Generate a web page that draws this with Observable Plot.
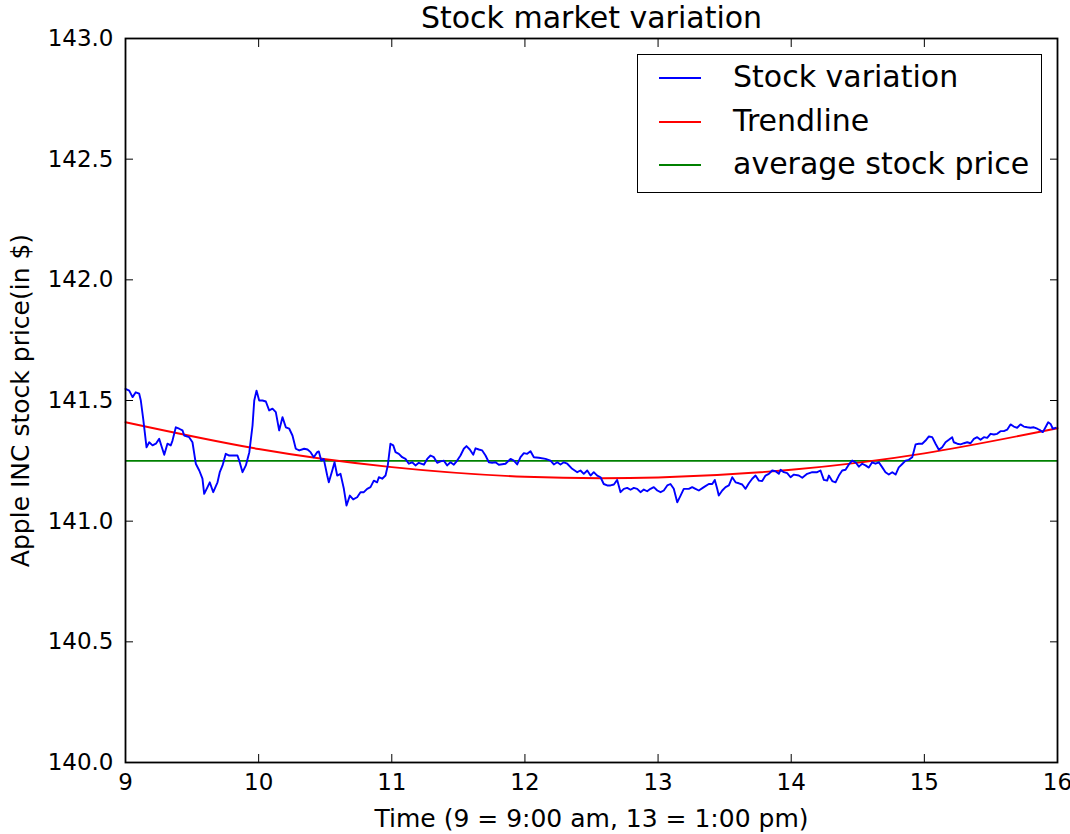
<!DOCTYPE html>
<html>
<head>
<meta charset="utf-8">
<script src="https://cdn.jsdelivr.net/npm/d3@7"></script>
<script src="https://cdn.jsdelivr.net/npm/@observablehq/plot@0.6"></script>
<style>
  html, body { margin: 0; padding: 0; background: #fff; }
  #wrap { position: relative; width: 1070px; height: 834px; font-family: "DejaVu Sans", sans-serif; }
  #legend {
    position: absolute; left: 637px; top: 54px; width: 403px; height: 137px;
    border: 1.5px solid #000; background: #fff; box-sizing: content-box;
  }
  .item { position: absolute; left: 0; height: 0; }
  .swatch { position: absolute; left: 21px; top: -1px; width: 42px; height: 2px; }
  .lbl { position: absolute; left: 95px; font-size: 30px; line-height: 30px; top: -16px; white-space: nowrap; color: #000; }
</style>
</head>
<body>
<div id="wrap"><div id="legend"></div></div>
<script>
// Intraday Apple stock price, [hour of day, price in $], one array per hour
const hour9 = [[9.000,141.548],[9.028,141.541],[9.053,141.514],[9.077,141.534],[9.103,141.528],[9.115,141.500],[9.133,141.424],[9.158,141.306],[9.178,141.327],[9.203,141.314],[9.228,141.321],[9.253,141.341],[9.273,141.306],[9.291,141.275],[9.315,141.321],[9.340,141.314],[9.353,141.334],[9.378,141.389],[9.403,141.383],[9.428,141.376],[9.441,141.355],[9.478,141.348],[9.503,141.327],[9.528,141.238],[9.554,141.210],[9.578,141.176],[9.591,141.113],[9.616,141.141],[9.633,141.161],[9.659,141.120],[9.691,141.161],[9.708,141.203],[9.729,141.231],[9.753,141.279],[9.779,141.272],[9.804,141.272],[9.841,141.272],[9.854,141.251],[9.879,141.203],[9.904,141.231],[9.930,141.286],[9.954,141.396],[9.967,141.500],[9.984,141.541]];
const hour10 = [[10.004,141.500],[10.029,141.500],[10.054,141.496],[10.079,141.459],[10.104,141.466],[10.129,141.452],[10.154,141.376],[10.179,141.431],[10.204,141.389],[10.230,141.383],[10.254,141.355],[10.279,141.300],[10.305,141.293],[10.342,141.300],[10.367,141.297],[10.390,141.286],[10.414,141.265],[10.440,141.286],[10.452,141.289],[10.470,141.251],[10.489,141.258],[10.515,141.189],[10.527,141.161],[10.553,141.210],[10.570,141.244],[10.590,141.189],[10.615,141.196],[10.640,141.134],[10.660,141.065],[10.685,141.106],[10.710,141.090],[10.740,141.099],[10.765,141.120],[10.790,141.120],[10.815,141.134],[10.840,141.141],[10.865,141.168],[10.890,141.161],[10.903,141.182],[10.928,141.176],[10.953,141.189],[10.970,141.231],[10.990,141.321]];
const hour11 = [[11.011,141.314],[11.028,141.286],[11.053,141.279],[11.078,141.265],[11.103,141.258],[11.128,141.238],[11.153,141.244],[11.178,141.231],[11.203,141.242],[11.241,141.234],[11.266,141.258],[11.291,141.272],[11.316,141.265],[11.341,141.242],[11.366,141.248],[11.391,141.251],[11.416,141.231],[11.441,141.244],[11.466,141.234],[11.491,141.251],[11.516,141.272],[11.541,141.300],[11.561,141.311],[11.586,141.297],[11.612,141.275],[11.629,141.302],[11.654,141.297],[11.679,141.293],[11.704,141.272],[11.729,141.244],[11.754,141.242],[11.779,141.244],[11.804,141.234],[11.817,141.235],[11.854,141.238],[11.892,141.258],[11.917,141.251],[11.942,141.235],[11.967,141.265],[11.992,141.282]];
const hour12 = [[12.017,141.279],[12.042,141.290],[12.067,141.265],[12.104,141.263],[12.155,141.258],[12.192,141.251],[12.217,141.235],[12.243,141.244],[12.267,141.235],[12.292,141.244],[12.318,141.238],[12.355,141.217],[12.393,141.203],[12.417,141.210],[12.442,141.196],[12.468,141.210],[12.493,141.189],[12.517,141.203],[12.543,141.189],[12.568,141.182],[12.592,141.154],[12.618,141.148],[12.643,141.148],[12.668,141.152],[12.693,141.171],[12.718,141.120],[12.743,141.134],[12.768,141.138],[12.793,141.130],[12.818,141.138],[12.843,141.134],[12.868,141.120],[12.893,141.131],[12.918,141.124],[12.943,141.134],[12.968,141.141],[12.994,141.127]];
const hour13 = [[13.019,141.120],[13.043,141.127],[13.069,141.148],[13.093,141.154],[13.118,141.134],[13.144,141.078],[13.169,141.106],[13.193,141.134],[13.231,141.134],[13.256,141.141],[13.281,141.134],[13.306,141.127],[13.344,141.141],[13.381,141.154],[13.407,141.154],[13.426,141.171],[13.444,141.134],[13.456,141.106],[13.482,141.127],[13.507,141.141],[13.532,141.148],[13.557,141.182],[13.582,141.161],[13.607,141.157],[13.632,141.152],[13.657,141.134],[13.682,141.157],[13.707,141.176],[13.732,141.189],[13.757,141.168],[13.782,141.166],[13.807,141.189],[13.832,141.196],[13.857,141.210],[13.882,141.207],[13.907,141.196],[13.920,141.213],[13.944,141.203],[13.970,141.199],[13.995,141.182]];
const hour14 = [[14.020,141.193],[14.057,141.189],[14.083,141.180],[14.120,141.196],[14.158,141.203],[14.195,141.203],[14.220,141.210],[14.245,141.171],[14.270,141.168],[14.283,141.189],[14.308,141.166],[14.333,141.161],[14.358,141.189],[14.383,141.210],[14.408,141.213],[14.433,141.235],[14.458,141.251],[14.483,141.244],[14.508,141.226],[14.533,141.238],[14.558,141.231],[14.583,141.222],[14.608,141.244],[14.633,141.238],[14.658,141.244],[14.684,141.223],[14.708,141.203],[14.733,141.193],[14.759,141.203],[14.784,141.193],[14.808,141.223],[14.834,141.237],[14.859,141.251],[14.883,141.254],[14.909,141.265],[14.934,141.318],[14.958,141.321],[14.984,141.321]];
const hour15 = [[15.009,141.334],[15.034,141.351],[15.059,141.348],[15.084,141.321],[15.109,141.296],[15.134,141.306],[15.159,141.327],[15.184,141.337],[15.209,141.348],[15.221,141.327],[15.247,141.321],[15.272,141.318],[15.297,141.323],[15.322,141.327],[15.347,141.323],[15.372,141.341],[15.397,141.348],[15.422,141.337],[15.447,141.348],[15.472,141.345],[15.497,141.362],[15.522,141.359],[15.547,141.362],[15.572,141.373],[15.597,141.373],[15.622,141.379],[15.647,141.401],[15.672,141.392],[15.697,141.387],[15.722,141.401],[15.747,141.392],[15.773,141.389],[15.797,141.387],[15.822,141.389],[15.848,141.383],[15.872,141.376],[15.890,141.369],[15.910,141.389],[15.930,141.410],[15.948,141.403],[15.965,141.383],[15.985,141.387]];

// Fitted trend, sampled on the hour
const trendHours = [9, 10, 11, 12, 13, 14, 15, 16];
const trendPrice = [141.410, 141.299, 141.224, 141.184, 141.181, 141.213, 141.281, 141.385];

// Average price over the session
const averagePrice = 141.25;

// Axis ticks
const xTicks = [9, 10, 11, 12, 13, 14, 15, 16];
const yTicks = [140.0, 140.5, 141.0, 141.5, 142.0, 142.5, 143.0];

const legendItems = [
  {label: "Stock variation", color: "#0000ff"},
  {label: "Trendline", color: "#ff0000"},
  {label: "average stock price", color: "#008000"}
];

const stock = [hour9, hour10, hour11, hour12, hour13, hour14, hour15].flat()
  .map(([t, p]) => ({t, p}));
const trend = trendHours.map((t, i) => ({t, p: trendPrice[i]}));

const chart = Plot.plot({
  width: 1070,
  height: 834,
  marginLeft: 125,
  marginRight: 13,
  marginTop: 38,
  marginBottom: 72,
  style: {fontFamily: "DejaVu Sans, sans-serif", background: "#fff", overflow: "visible"},
  x: {domain: [9, 16]},
  y: {domain: [140, 143]},
  marks: [
    Plot.ruleY([averagePrice], {stroke: "#008000", strokeWidth: 1.9}),
    Plot.line(trend, {x: "t", y: "p", stroke: "#ff0000", strokeWidth: 1.9, curve: "natural"}),
    Plot.line(stock, {x: "t", y: "p", stroke: "#0000ff", strokeWidth: 1.9}),
    Plot.frame({stroke: "#000", strokeWidth: 1.8}),
    Plot.axisX({anchor: "bottom", ticks: xTicks, tickSize: -8, tickPadding: 19, fontSize: 23, tickFormat: d => String(d), label: null, stroke: "#000"}),
    Plot.axisX({anchor: "top", ticks: xTicks, tickSize: -8, tickFormat: () => "", label: null, stroke: "#000"}),
    Plot.axisY({anchor: "left", ticks: yTicks, tickSize: -8, tickPadding: 20, fontSize: 23, tickFormat: d => d.toFixed(1), label: null, stroke: "#000"}),
    Plot.axisY({anchor: "right", ticks: yTicks, tickSize: -8, tickFormat: () => "", label: null, stroke: "#000"}),
    Plot.text(["Stock market variation"], {text: d => d, frameAnchor: "top", lineAnchor: "middle", dy: -20, fontSize: 30, fill: "#000"}),
    Plot.text(["Time (9 = 9:00 am, 13 = 1:00 pm)"], {text: d => d, frameAnchor: "bottom", lineAnchor: "middle", dy: 56, fontSize: 25, fill: "#000"}),
    Plot.text(["Apple INC stock price(in $)"], {text: d => d, frameAnchor: "left", textAnchor: "middle", lineAnchor: "middle", dx: -105, rotate: -90, fontSize: 25, fill: "#000"})
  ]
});

const wrap = document.getElementById("wrap");
wrap.insertBefore(chart, wrap.firstChild);

const legend = document.getElementById("legend");
legendItems.forEach((d, i) => {
  const item = document.createElement("div");
  item.className = "item";
  item.style.top = (23 + i * 43.5) + "px";
  item.innerHTML = `<div class="swatch" style="background:${d.color}"></div><div class="lbl">${d.label}</div>`;
  legend.appendChild(item);
});
</script>
</body>
</html>
